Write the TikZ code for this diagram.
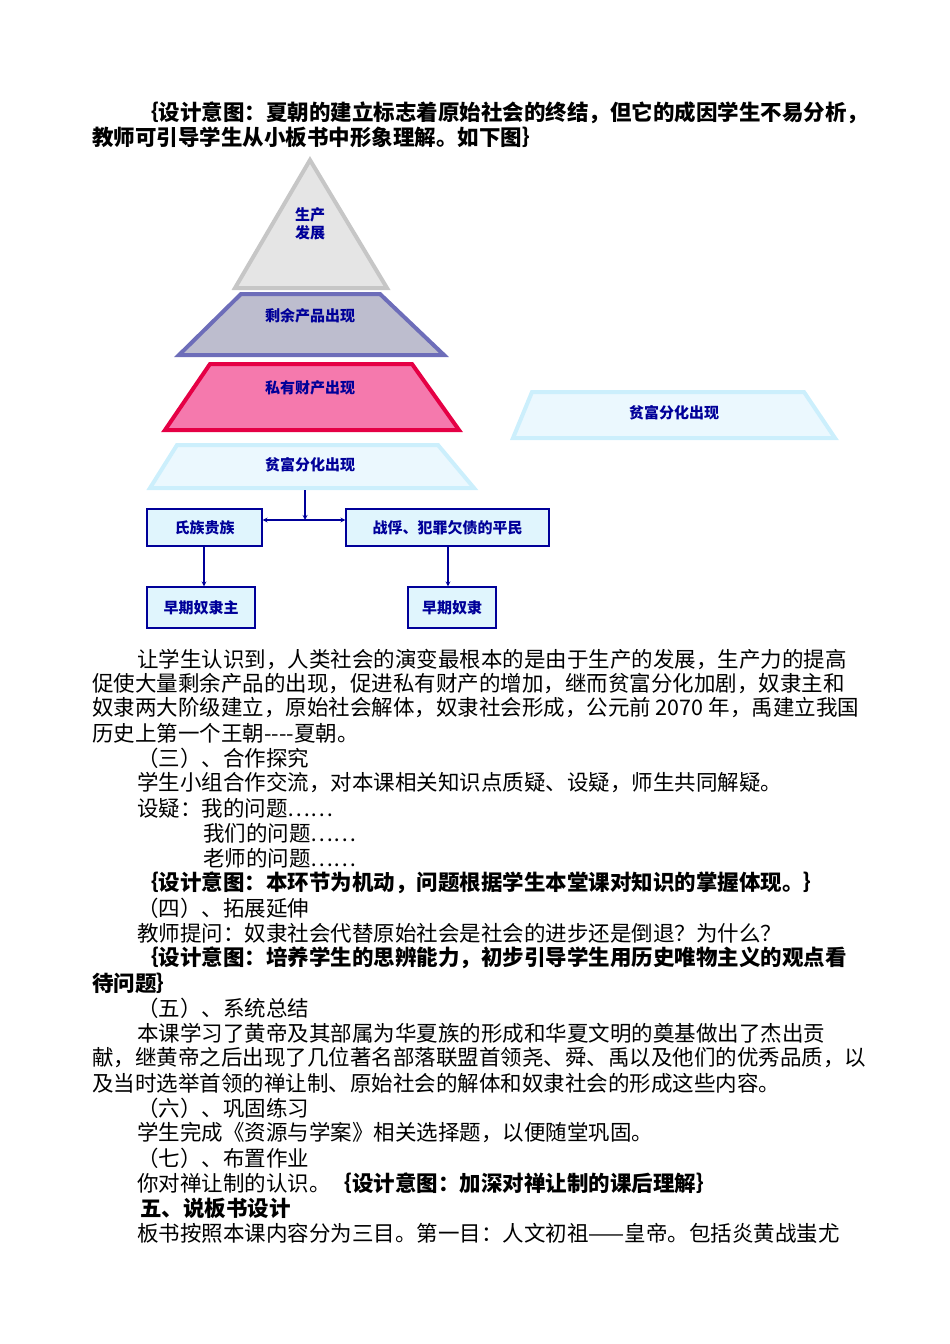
\documentclass[tikz,border=0pt]{standalone}
\usepackage{fontspec}
\setmainfont{Noto Sans CJK SC}
\begin{document}
\begin{tikzpicture}[x=1pt,y=-1pt,
  line/.style={anchor=west,inner sep=0pt,font=\fontsize{21.5}{23}\selectfont},
  bl/.style={line,font=\fontsize{21.5}{23}\selectfont\bfseries},
  dtxt/.style={text=blue!60!black,font=\fontsize{15}{17}\selectfont\bfseries},
  bx/.style={draw=blue!60!black,fill=cyan!12,line width=1.2pt,dtxt},
  arr/.style={->,>=stealth,blue!60!black,line width=1.2pt}]
\useasboundingbox (0,0) rectangle (950,1344);
\node[bl] (t1) at (137,113) {｛设计意图：夏朝的建立标志着原始社会的终结，但它的成因学生不易分析，};
\node[bl] (t2) at (92,137) {教师可引导学生从小板书中形象理解。如下图｝};
% pyramid
\draw[fill=gray!20,draw=gray!45,line width=4pt,line join=miter] (310,160)--(387,288)--(235,288)--cycle;
\node[dtxt] (a) at (310,224) {\shortstack{生产\\发展}};
\draw[fill=blue!15!gray!45,draw=blue!35!gray!85,line width=4pt] (241,294)--(380,294)--(444,355)--(179,355)--cycle;
\node[dtxt] (b) at (310,316) {剩余产品出现};
\draw[fill=magenta!45!pink!90!white,draw=red!70!magenta!90!black,line width=4pt] (210,364)--(412,364)--(459,430)--(165,430)--cycle;
\node[dtxt] (c) at (310,388) {私有财产出现};
\draw[fill=cyan!8,draw=cyan!20,line width=4pt] (177,445)--(438,445)--(474,488)--(150,488)--cycle;
\node[dtxt] (d) at (310,465) {贫富分化出现};
\draw[fill=cyan!8,draw=cyan!20,line width=4pt] (532,392)--(804,392)--(835,438)--(513,438)--cycle;
\node[dtxt] (e) at (674,413) {贫富分化出现};
\node[bx,minimum width=115pt,minimum height=37pt] (f) at (204.5,527.5) {氏族贵族};
\node[bx,minimum width=203pt,minimum height=37pt] (g) at (447.5,527.5) {战俘、犯罪欠债的平民};
\node[bx,minimum width=108pt,minimum height=41pt] (h) at (201,607.5) {早期奴隶主};
\node[bx,minimum width=88pt,minimum height=41pt] (k) at (452,607.5) {早期奴隶};
\coordinate (j) at (305,520);
\coordinate (dd) at (305,490);
\draw[arr] (dd)--(j);
\draw[arr,<->] (f.east|-j)--(g.west|-j);
\draw[arr] (f.south-|204,0)--(h.north-|204,0);
\draw[arr] (g.south-|448,0)--(k.north-|448,0);
% text
\node[line] (l1) at (137,660) {让学生认识到，人类社会的演变最根本的是由于生产的发展，生产力的提高};
\node[line] (l2) at (92,684) {促使大量剩余产品的出现，促进私有财产的增加，继而贫富分化加剧，奴隶主和};
\node[line] (l3) at (92,708) {奴隶两大阶级建立，原始社会解体，奴隶社会形成，公元前 2070 年，禹建立我国};
\node[line] (l4) at (92,733) {历史上第一个王朝-{}-{}-{}-夏朝。};
\node[line] (l5) at (137,758) {（三）、合作探究};
\node[line] (l6) at (137,783) {学生小组合作交流，对本课相关知识点质疑、设疑，师生共同解疑。};
\node[line] (l7) at (137,808) {设疑：我的问题……};
\node[line] (l8) at (203,833) {我们的问题……};
\node[line] (l9) at (203,858) {老师的问题……};
\node[bl] (l10) at (137,883) {｛设计意图：本环节为机动，问题根据学生本堂课对知识的掌握体现。｝};
\node[line] (l11) at (137,908) {（四）、拓展延伸};
\node[line] (l12) at (137,933) {教师提问：奴隶社会代替原始社会是社会的进步还是倒退？为什么？};
\node[bl] (l13) at (137,958) {｛设计意图：培养学生的思辨能力，初步引导学生用历史唯物主义的观点看};
\node[bl] (l14) at (92,983) {待问题｝};
\node[line] (l15) at (137,1008) {（五）、系统总结};
\node[line] (l16) at (137,1033) {本课学习了黄帝及其部属为华夏族的形成和华夏文明的奠基做出了杰出贡};
\node[line] (l17) at (92,1058) {献，继黄帝之后出现了几位著名部落联盟首领尧、舜、禹以及他们的优秀品质，以};
\node[line] (l18) at (92,1083) {及当时选举首领的禅让制、原始社会的解体和奴隶社会的形成这些内容。};
\node[line] (l19) at (137,1108) {（六）、巩固练习};
\node[line] (l20) at (137,1133) {学生完成《资源与学案》相关选择题，以便随堂巩固。};
\node[line] (l21) at (137,1158) {（七）、布置作业};
\node[line] (l22) at (137,1183) {你对禅让制的认识。\bfseries｛设计意图：加深对禅让制的课后理解｝};
\node[bl] (l23) at (140,1208) {五、说板书设计};
\node[line] (l24) at (137,1233) {板书按照本课内容分为三目。第一目：人文初祖——皇帝。包括炎黄战蚩尤};
\end{tikzpicture}
\end{document}
